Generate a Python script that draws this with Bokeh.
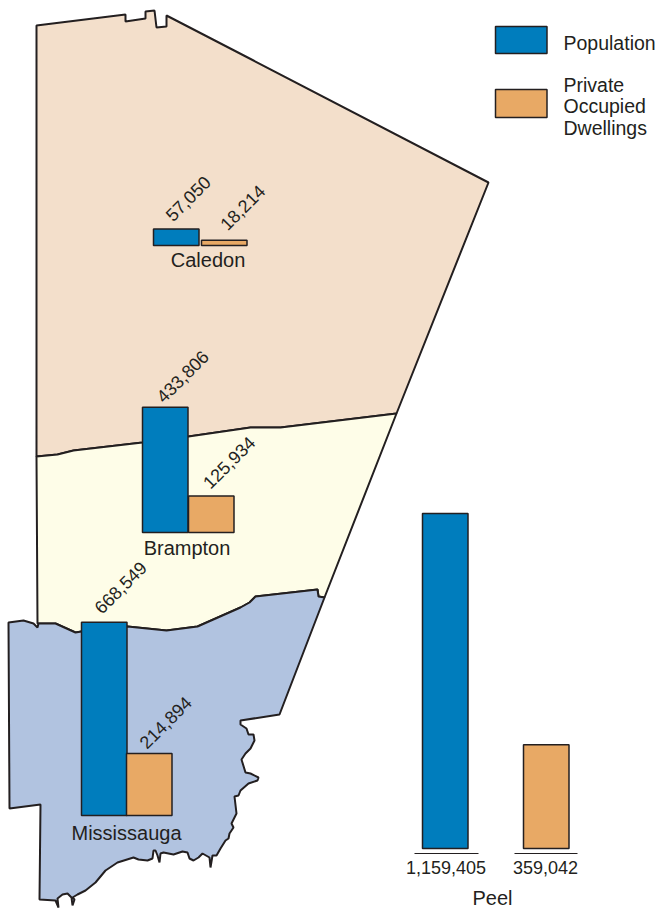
from math import pi
from bokeh.plotting import figure
from bokeh.models import Range1d
from bokeh.core.properties import value
from bokeh.embed import file_html
from bokeh.resources import INLINE

# ---- data -------------------------------------------------------------
regions = ["Caledon", "Brampton", "Mississauga", "Peel"]
population = [57050, 433806, 668549, 1159405]
dwellings = [18214, 125934, 214894, 359042]
legend_labels = ["Population", "Private", "Occupied", "Dwellings"]

# ---- map outlines (traced) --------------------------------------------
caledon_x = [36,125,125,145,145,154,156,166,166,253,488,396,280,250,188,142,73,57,36]
caledon_y = [25,14,21,18,11,10,27,26,15,60,182,413,427,427,436,442,450,454,456]
boundary_x = [36,57,73,142,188,250,280,396]
boundary_y = [456,454,450,442,436,427,427,413]
miss_x = [8,23,33,37,38,55,75,81,127,166,197,240,249,255,317,318,324,279,240,240,246,248,253,254,250,245,241,245,250,258,257,248,240,238,234,236,231,233,229,228,225,220,216,212,210,209,202,198,193,189,187,182,173,163,160,159,157,155,153,152,147,138,133,117,105,95,85,77,72,74,72,71,67,62,57,58,55,39,40,9]
miss_y = [622,620,623,627,623,623,632,631,626,630,626,607,602,596,589,596,597,714,720,724,728,734,734,740,748,753,759,772,773,777,780,783,790,795,796,813,823,827,833,838,840,848,855,855,867,857,853,857,860,858,852,851,854,852,853,862,855,850,850,858,860,859,857,862,870,882,890,894,897,899,905,897,893,894,898,907,900,899,804,808]
miss_top_x = [324,318,317,255,249,240,197,166,127,81,75,55,37]
miss_top_y = [597,596,589,596,602,607,626,630,626,631,632,623,623]
brampton_x = boundary_x + miss_top_x + [36]
brampton_y = boundary_y + miss_top_y + [456]

# ---- layout ------------------------------------------------------------
W, H = 657, 908
PX_PER_PERSON = 335 / 1159405
BAR_W = 45.5
pop_left = [153, 142, 81, 422]
dw_left = [201, 188, 126, 523]
base = [245, 532, 815, 848]

INK = "#231F20"
BLUE = "#007DBD"
ORANGE = "#E8A965"
FONT = value("Liberation Sans")

p = figure(width=W, height=H, output_backend="svg", toolbar_location=None,
           x_range=Range1d(0, W), y_range=Range1d(H, 0),
           x_axis_location=None, y_axis_location=None,
           min_border=0, outline_line_color=None, background_fill_color="white")
p.xgrid.visible = False
p.ygrid.visible = False

p.patch(caledon_x, caledon_y, fill_color="#F3DFCB", line_color=INK, line_width=2)
p.patch(brampton_x, brampton_y, fill_color="#FEFDE8", line_color=INK, line_width=2)
p.patch(miss_x, miss_y, fill_color="#B1C3E0", line_color=INK, line_width=2)

# bars, heights from the values
p.quad(left=pop_left, right=[x + BAR_W for x in pop_left], bottom=base,
       top=[b - v * PX_PER_PERSON for b, v in zip(base, population)],
       fill_color=BLUE, line_color=INK, line_width=1.5)
p.quad(left=dw_left, right=[x + BAR_W for x in dw_left], bottom=base,
       top=[b - v * PX_PER_PERSON for b, v in zip(base, dwellings)],
       fill_color=ORANGE, line_color=INK, line_width=1.5)

# legend swatches
p.quad(left=[495], right=[546.5], top=[26], bottom=[53], fill_color=BLUE, line_color=INK, line_width=1.5)
p.quad(left=[495], right=[546.5], top=[89], bottom=[117], fill_color=ORANGE, line_color=INK, line_width=1.5)

# rules under Peel bars
p.segment(x0=[414, 514], x1=[478, 577], y0=[853, 853], y1=[853, 853], line_color=INK, line_width=1)

def fmt(v):
    return f"{v:,}"

# rotated labels (centred on their label centres)
rot_labels = [fmt(v) for v in population[:3] + dwellings[:3]]
rot_x = [187.5, 182, 120, 242, 228.5, 165]
rot_y = [198, 376, 587, 207, 462, 722]
p.text(rot_x, rot_y, text=rot_labels, angle=pi / 4, text_font=FONT, text_font_size="18px",
       text_color=INK, text_align="center", text_baseline="middle")

# region names
p.text([207.5, 186.5, 126, 492], [259, 547, 832, 897], text=regions, text_font=FONT, text_font_size="20px",
       text_color=INK, text_align="center", text_baseline="middle")

# Peel totals
p.text([445.5, 545], [867, 867], text=[fmt(population[3]), fmt(dwellings[3])], text_font=FONT,
       text_font_size="18px", text_color=INK, text_align="center", text_baseline="middle")

# legend text
p.text([563, 563, 563, 563], [42, 84.5, 105.5, 127], text=legend_labels, text_font=FONT, text_font_size="19.5px",
       text_color=INK, text_align="left", text_baseline="middle")

open("out.html", "w").write(file_html(p, INLINE))
